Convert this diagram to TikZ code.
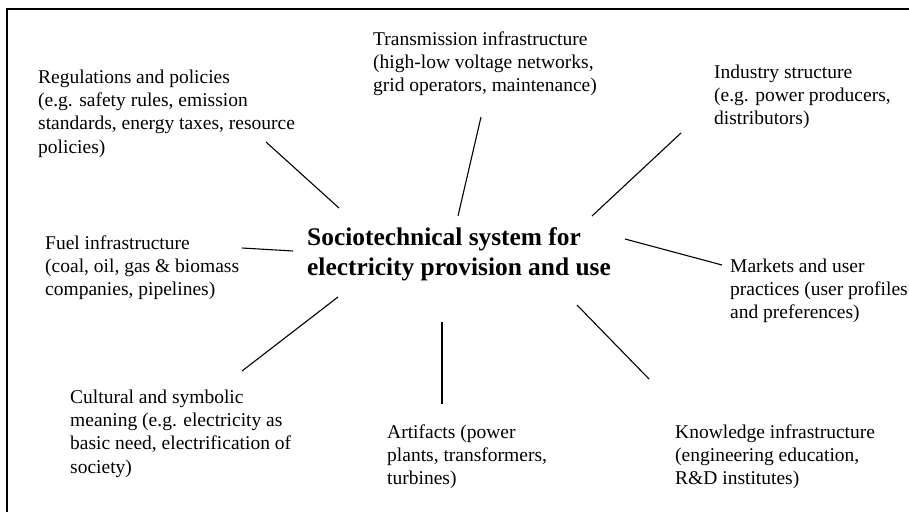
\documentclass[tikz,border=0pt]{standalone}
\usepackage{fontspec}
\setmainfont{Liberation Serif}

% stacked lines whose baseline is that of the first line
\newcommand\textlines[1]{\vtop{\baselineskip=23.4pt\lineskiplimit=-10pt
  \let\\\cr\halign{##\hfil\cr#1\crcr}}}

\begin{document}
\begin{tikzpicture}[x=1pt,y=-1pt,
  lbl/.style={anchor=base west,inner sep=0pt,font=\fontsize{19.5}{23.4}\selectfont},
  core/.style={anchor=base west,inner sep=0pt,font=\fontsize{25.4}{30}\selectfont\bfseries},
  spoke/.style={draw=black,line width=1.1pt},
  frame/.style={draw=black,line width=1.8pt}]
\useasboundingbox (0,0) rectangle (909,512);

% outer frame (top and left edges)
\draw[frame] (7,512) -- (7,9) -- (909,9);

% centre
\node[core] (centre) at (307,245) {\vtop{\baselineskip=30pt\lineskiplimit=-10pt
  \halign{#\hfil\cr Sociotechnical system for\cr electricity provision and use\cr}}};

% surrounding elements
\node[lbl] (reg) at (38,83) {\textlines{Regulations and policies\\
  (e.g. safety rules, emission\\
  standards, energy taxes, resource\\
  policies)}};
\node[lbl] (trans) at (373,45) {\textlines{Transmission infrastructure\\
  (high-low voltage networks,\\
  grid operators, maintenance)}};
\node[lbl] (ind) at (714,78) {\textlines{Industry structure\\
  (e.g. power producers,\\
  distributors)}};
\node[lbl] (fuel) at (45,249) {\textlines{Fuel infrastructure\\
  (coal, oil, gas \& biomass\\
  companies, pipelines)}};
\node[lbl] (mkt) at (730,272) {\textlines{Markets and user\\
  practices (user profiles\\
  and preferences)}};
\node[lbl] (cult) at (70,403) {\textlines{Cultural and symbolic\\
  meaning (e.g. electricity as\\
  basic need, electrification of\\
  society)}};
\node[lbl] (art) at (387,438) {\textlines{Artifacts (power\\
  plants, transformers,\\
  turbines)}};
\node[lbl] (know) at (675,438) {\textlines{Knowledge infrastructure\\
  (engineering education,\\
  R\&D institutes)}};

% spoke end points
\coordinate (reg-o)   at (266,142);  \coordinate (reg-i)   at (339,208);
\coordinate (trans-o) at (481,117);  \coordinate (trans-i) at (458,216);
\coordinate (ind-o)   at (681,133);  \coordinate (ind-i)   at (592,216);
\coordinate (fuel-o)  at (242,248);  \coordinate (fuel-i)  at (293,251);
\coordinate (mkt-o)   at (722,265);  \coordinate (mkt-i)   at (625,239);
\coordinate (cult-o)  at (242,371);  \coordinate (cult-i)  at (338,297);
\coordinate (art-o)   at (442,404);  \coordinate (art-i)   at (442,322);
\coordinate (know-o)  at (649,379);  \coordinate (know-i)  at (577,305);

% spokes
\foreach \s in {reg,trans,ind,fuel,mkt,cult,art,know}
  \draw[spoke] (\s-o) -- (\s-i);
\end{tikzpicture}
\end{document}
